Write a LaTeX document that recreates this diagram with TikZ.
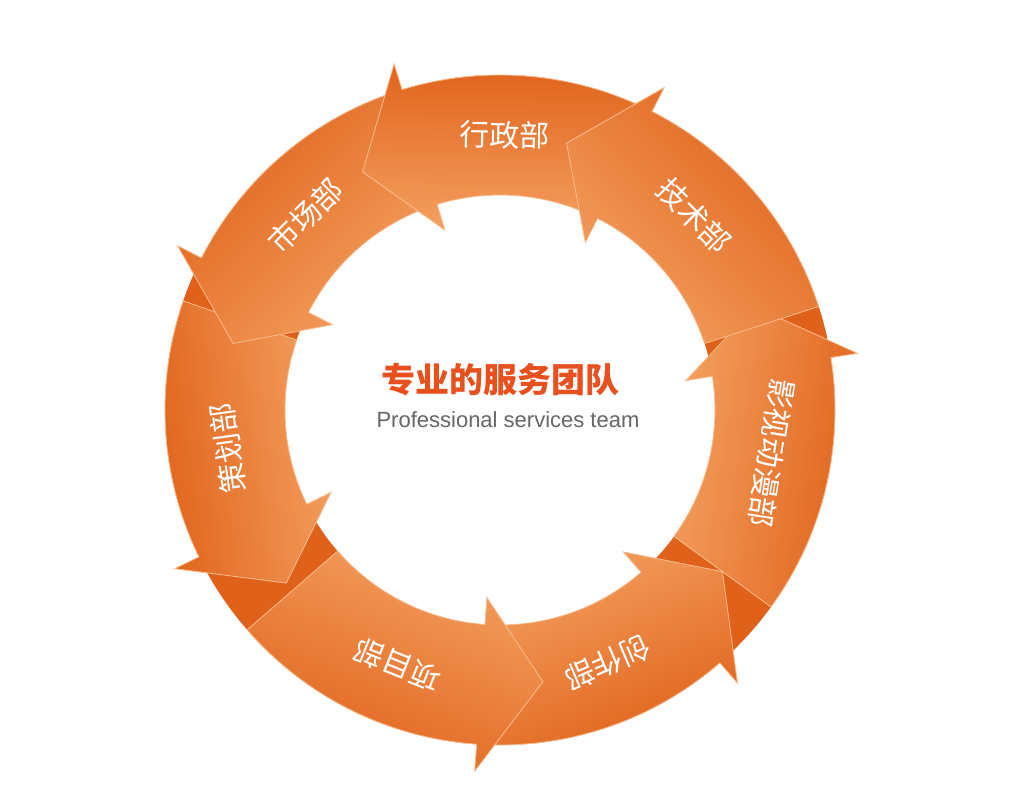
\documentclass[tikz,border=0pt]{standalone}
\usepackage{fontspec}
\newfontfamily\cjk{Noto Sans CJK SC}
\setmainfont{Liberation Sans}
\definecolor{ordark}{HTML}{E0621A}
\definecolor{orlight}{HTML}{F4A060}
\definecolor{titlered}{HTML}{E8501E}
\tikzset{
  lab/.style={text=white,font=\cjk\fontsize{30}{30}\selectfont,inner sep=0pt},
}
\newcommand{\ringarrow}[2]{% #1 center angle, #2 name
  \pgfmathsetmacro{\aa}{#1-27}\pgfmathsetmacro{\ab}{#1+18}\pgfmathsetmacro{\at}{#1+31}
  \shade[left color=orlight,right color=ordark,shading angle=#1+90,draw=orlight!70!white,line width=0.8pt]
   (\aa:335) arc[start angle=\aa,end angle=\ab,radius=335] -- (\ab:362) -- (\at:275)
   -- (\ab:188) -- (\ab:215) arc[start angle=\ab,end angle=\aa,radius=215] -- cycle;
  \node[lab,rotate=#1-90] (#2) at (#1:275) {#2};
}
\begin{document}
\begin{tikzpicture}[x=1pt,y=1pt]
\useasboundingbox (-500,-374) rectangle (524,410);
\fill[white] (-500,-374) rectangle (524,410);
\fill[ordark] (0,0) circle (335);
\fill[white] (0,0) circle (215);
\ringarrow{-9}{影视动漫部}
\ringarrow{-67}{创作部}
\ringarrow{-112}{项目部}
\ringarrow{-172}{策划部}
\ringarrow{135}{市场部}
\ringarrow{89}{行政部}
\ringarrow{45}{技术部}
\node[font=\cjk\bfseries\fontsize{34}{34}\selectfont,text=titlered] (t1) at (0,30) {专业的服务团队};
\node[font=\fontsize{22}{22}\selectfont,text=black!60] (t2) at (8,-10) {Professional services team};
\end{tikzpicture}
\end{document}
